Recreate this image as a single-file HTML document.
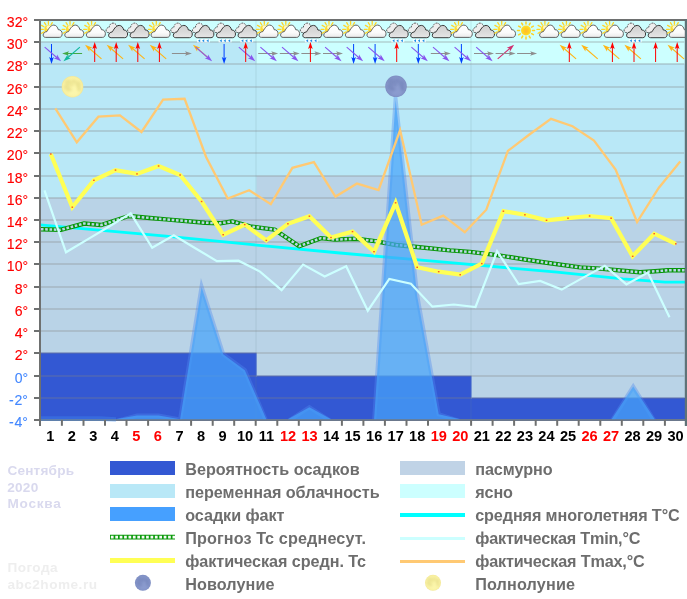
<!DOCTYPE html>
<html lang="ru">
<head>
<meta charset="utf-8">
<title>Погода Москва Сентябрь 2020</title>
<style>
html,body{margin:0;padding:0;background:#fff;}
body{width:687px;height:599px;overflow:hidden;font-family:"Liberation Sans",Arial,sans-serif;}
svg{display:block;}
</style>
</head>
<body>
<svg width="687" height="599" viewBox="0 0 687 599">
<defs>
<radialGradient id="gsun" cx="50%" cy="55%" r="55%"><stop offset="0" stop-color="#ffb82e"/><stop offset="0.55" stop-color="#ffd21f"/><stop offset="1" stop-color="#ffe135"/></radialGradient>
<linearGradient id="gcw" x1="0" y1="0" x2="0" y2="1"><stop offset="0" stop-color="#ffffff"/><stop offset="0.6" stop-color="#fbfbfb"/><stop offset="1" stop-color="#e9e9e9"/></linearGradient>
<linearGradient id="gcg" x1="0" y1="0" x2="0" y2="1"><stop offset="0" stop-color="#cfcfcf"/><stop offset="0.5" stop-color="#d9d9d9"/><stop offset="1" stop-color="#e6e6e6"/></linearGradient>
<radialGradient id="gfm" cx="50%" cy="50%" r="50%"><stop offset="0" stop-color="#fbf4a6"/><stop offset="0.88" stop-color="#f9f1a2"/><stop offset="1" stop-color="#f2e696"/></radialGradient>
<radialGradient id="gnm" cx="50%" cy="50%" r="50%"><stop offset="0" stop-color="#8898cb"/><stop offset="0.86" stop-color="#8494c8"/><stop offset="1" stop-color="#7e8ec2"/></radialGradient>
<g id="cloudw"><path d="M4.8,15.4 C3,15.4 2.2,14.2 2.3,12.9 C2.5,11.2 3.8,9.8 6,9.6 C7.2,7.8 9.4,3.1 12.9,3.1 C15.2,3.1 16.8,5.2 17.4,7.7 C19.8,7.5 21.3,9.6 21.3,11.7 C21.3,13.8 20.2,15.4 18.4,15.4 Z" fill="url(#gcw)" stroke="#505050" stroke-width="0.9"/></g>
<g id="suncl"><g stroke="#ffd426" stroke-width="1.3" stroke-linecap="round"><line x1="3.1" y1="9.9" x2="0.7" y2="11.3"/><line x1="2.4" y1="7.4" x2="-0.4" y2="7.4"/><line x1="3.1" y1="4.8" x2="0.7" y2="3.4"/><line x1="5" y1="3" x2="3.6" y2="0.6"/><line x1="7.5" y1="2.3" x2="7.5" y2="-0.5"/><line x1="10" y1="3" x2="11.4" y2="0.6"/></g><circle cx="7.5" cy="7.4" r="4.1" fill="#ffdc32"/><circle cx="7.6" cy="5.4" r="2" fill="#fff6c0"/><use href="#cloudw"/></g>
<g id="clouds"><path d="M2.6,10.6 C0.9,10.6 0.1,9.2 0.4,7.8 C0.7,6.3 1.9,5.5 3.3,5.7 C3.5,3.1 5.1,1.1 7.3,1.1 C9.3,1.1 10.7,2.5 11.1,4.3 C12.5,4.5 13.3,5.7 13.1,7.3 C12.9,9.1 11.7,10.6 10.1,10.6 Z" fill="#eeeeee" stroke="#505050" stroke-width="0.95" stroke-dasharray="1.7 1"/><path transform="translate(0.6,0.3)" d="M4.8,15.4 C3,15.4 2.2,14.2 2.3,12.9 C2.5,11.2 3.8,9.8 6,9.6 C7.2,7.8 9.4,3.1 12.9,3.1 C15.2,3.1 16.8,5.2 17.4,7.7 C19.8,7.5 21.3,9.6 21.3,11.7 C21.3,13.8 20.2,15.4 18.4,15.4 Z" fill="url(#gcg)" stroke="#3a3a3a" stroke-width="1"/></g>
<g id="rain"><rect x="5" y="17" width="13" height="3.4" fill="#ffffff" opacity="0.8"/><use href="#clouds"/><g fill="#1f8fe6"><path d="M6,18.8 L8.2,17.2 L8.2,20.2 Z"/><path d="M10,18.8 L12.2,17.2 L12.2,20.2 Z"/><path d="M14.4,18.8 L16.6,17.2 L16.6,20.2 Z"/></g></g>
<g id="sun"><g transform="translate(10.2,8.5)"><g stroke="#ffd21f" stroke-width="1.5" stroke-linecap="round"><line x1="0" y1="-6.5" x2="0" y2="-8.5"/><line x1="3.2" y1="-5.6" x2="4.2" y2="-7.4"/><line x1="5.6" y1="-3.3" x2="7.4" y2="-4.3"/><line x1="6.5" y1="-0" x2="8.5" y2="-0"/><line x1="5.6" y1="3.2" x2="7.4" y2="4.2"/><line x1="3.2" y1="5.6" x2="4.2" y2="7.4"/><line x1="0" y1="6.5" x2="0" y2="8.5"/><line x1="-3.3" y1="5.6" x2="-4.3" y2="7.4"/><line x1="-5.6" y1="3.3" x2="-7.4" y2="4.3"/><line x1="-6.5" y1="0" x2="-8.5" y2="0"/><line x1="-5.6" y1="-3.3" x2="-7.4" y2="-4.3"/><line x1="-3.3" y1="-5.6" x2="-4.3" y2="-7.4"/></g><circle r="5" fill="url(#gsun)"/></g></g>
<g id="arw"><line x1="0" y1="9" x2="0" y2="-7" stroke-width="1"/><path d="M0,-11 L2.3,-4 L0,-5.6 L-2.3,-4 Z" stroke="none"/></g>
<clipPath id="mclip"><circle r="10.7"/></clipPath><filter id="mblur" x="-30%" y="-30%" width="160%" height="160%"><feGaussianBlur stdDeviation="1.1"/></filter>
</defs>
<rect width="687" height="599" fill="#ffffff"/>
<rect x="40" y="20" width="646" height="400" fill="#ccffff"/>
<rect x="40" y="20" width="217.6" height="23" fill="#ccffff"/>
<rect x="40" y="41.7" width="217.6" height="157" fill="#b9e8f7"/>
<rect x="40" y="197.7" width="217.6" height="156" fill="#b9d3e7"/>
<rect x="40" y="352.7" width="217.6" height="67" fill="#3358d3"/>
<rect x="256.6" y="20" width="215.9" height="45" fill="#ccffff"/>
<rect x="256.6" y="63.7" width="215.9" height="113" fill="#b9e8f7"/>
<rect x="256.6" y="175.7" width="215.9" height="201" fill="#b9d3e7"/>
<rect x="256.6" y="375.7" width="215.9" height="44" fill="#3358d3"/>
<rect x="471.5" y="20" width="214.5" height="45" fill="#ccffff"/>
<rect x="471.5" y="63.7" width="214.5" height="157" fill="#b9e8f7"/>
<rect x="471.5" y="219.7" width="214.5" height="179" fill="#b9d3e7"/>
<rect x="471.5" y="397.7" width="214.5" height="22" fill="#3358d3"/>
<line x1="256" y1="21" x2="256" y2="419" stroke="#6f8c90" stroke-opacity="0.13" stroke-width="1.5"/>
<line x1="471" y1="21" x2="471" y2="419" stroke="#6f8c90" stroke-opacity="0.13" stroke-width="1.5"/>
<g stroke="#808080" stroke-opacity="0.27" stroke-width="2">
<line x1="41" y1="42" x2="684.2" y2="42"/>
<line x1="41" y1="64" x2="684.2" y2="64"/>
<line x1="41" y1="87" x2="684.2" y2="87"/>
<line x1="41" y1="109" x2="684.2" y2="109"/>
<line x1="41" y1="131" x2="684.2" y2="131"/>
<line x1="41" y1="153" x2="684.2" y2="153"/>
<line x1="41" y1="176" x2="684.2" y2="176"/>
<line x1="41" y1="198" x2="684.2" y2="198"/>
<line x1="41" y1="220" x2="684.2" y2="220"/>
<line x1="41" y1="242" x2="684.2" y2="242"/>
<line x1="41" y1="264" x2="684.2" y2="264"/>
<line x1="41" y1="287" x2="684.2" y2="287"/>
<line x1="41" y1="309" x2="684.2" y2="309"/>
<line x1="41" y1="331" x2="684.2" y2="331"/>
<line x1="41" y1="353" x2="684.2" y2="353"/>
<line x1="41" y1="376" x2="684.2" y2="376"/>
<line x1="41" y1="398" x2="684.2" y2="398"/>
</g>
<polyline points="40,224.8 166,236.2 250,244.4 340,253 450,262.7 557,272.1 623,278.9 665,282.1 685,282.1" fill="none" stroke="#00ffff" stroke-width="2.8" stroke-linejoin="round"/>
<polyline points="40,229.2 60.6,229.8 84.2,223.5 101.3,225 128.7,216 150,218 166,219.4 205,222.7 220,223.3 232,221.4 250,226.4 274.6,229.6 299.2,246.2 321,238.1 335,239.6 356,238.7 374.9,241.1 396,245 417,247 450,250.4 470,251.9 497,255.1 525,259.5 546.7,262.7 580,267.4 600,268.6 640,272.3 655,271.3 668,270.3 685,270.3" fill="none" stroke="#079607" stroke-width="4.4" stroke-linejoin="round"/>
<polyline points="40,229.2 60.6,229.8 84.2,223.5 101.3,225 128.7,216 150,218 166,219.4 205,222.7 220,223.3 232,221.4 250,226.4 274.6,229.6 299.2,246.2 321,238.1 335,239.6 356,238.7 374.9,241.1 396,245 417,247 450,250.4 470,251.9 497,255.1 525,259.5 546.7,262.7 580,267.4 600,268.6 640,272.3 655,271.3 668,270.3 685,270.3" fill="none" stroke="#b9d5e6" stroke-width="2.5" stroke-dasharray="2.6 1.7" stroke-dashoffset="-0.9" stroke-linejoin="round"/>
<line x1="41" y1="420" x2="685" y2="420" stroke="#6b788c" stroke-width="2"/>
<polyline points="41,418.6 100,418.6 116,419.6" fill="none" stroke="#4696fa" stroke-opacity="0.3" stroke-width="4.8"/>
<clipPath id="pclip"><rect x="41" y="21" width="644" height="398.2"/></clipPath>
<polyline points="115.5,421.2 137,415.6 158.6,415.6 180.1,419.6 201.6,287 223.2,354.3 244.8,370.2 266.3,421.2 287.9,421.2 309.4,407.3 331,421.2 374.1,421.2 395.6,100 417.2,296 438.7,414.3 460.2,421.2 611.6,421.2 633.2,386.6 654.7,421.2" fill="none" stroke="#5088ee" stroke-opacity="0.38" stroke-width="4.2" stroke-linejoin="miter" stroke-miterlimit="40" clip-path="url(#pclip)"/>
<polygon points="115.5,419.2 115.5,419.2 137,415.6 158.6,415.6 180.1,419.2 201.6,287 223.2,354.3 244.8,370.2 266.3,419.2 287.9,419.2 309.4,407.3 331,419.2 374.1,419.2 395.6,100 417.2,296 438.7,414.3 460.2,419.2 611.6,419.2 633.2,386.6 654.7,419.2 654.7,419.2" fill="#46a4fa" fill-opacity="0.72"/>
<polyline points="44.5,190.3 66,252.3 87.6,239.4 109.2,226.5 130.7,213.3 152.2,247.8 173.8,235.2 195.3,248.2 216.9,261.1 238.5,260.7 260,271.6 281.6,290.1 303.1,264.6 324.7,276.5 346.2,266.3 367.8,310.7 389.3,278.9 410.9,283.7 432.4,306.7 453.9,304.5 475.5,307 497.1,251.2 518.6,284 540.2,280.9 561.7,289.6 583.2,277.6 604.8,265.9 626.4,284.4 647.9,272.5 669.5,317.3" fill="none" stroke="#ccffff" stroke-width="2.2" stroke-linejoin="miter"/>
<polyline points="55.3,108.4 76.8,142.3 98.4,116.7 120,115.4 141.5,132 163.1,99.7 184.6,98.8 206.1,157 227.7,198.5 249.2,190.2 270.8,204.2 292.4,167.8 313.9,162.2 335.5,196.6 357,183.6 378.6,190 400.1,130.1 421.7,224.7 443.2,215.6 464.8,232.2 486.3,209.7 507.9,150.9 529.4,134.5 551,118.8 572.5,126.2 594,140.5 615.6,169.5 637.1,222 658.7,188 680.2,161.5" fill="none" stroke="#ffc973" stroke-width="2.3" stroke-linejoin="miter"/>
<polyline points="50.8,154 72.3,207.2 93.9,180.3 115.5,170.1 137,173.9 158.6,166 180.1,175 201.6,201.5 223.2,234.7 244.8,224.6 266.3,240.4 287.9,223.8 309.4,216.2 331,237.5 352.5,231.6 374.1,251.7 395.6,202.8 417.2,267.3 438.7,271.7 460.2,274.7 481.8,263.6 503.4,211.2 524.9,214.8 546.5,220.3 568,218.2 589.5,216 611.1,218.2 632.6,256.3 654.2,233.7 675.8,243.8" fill="none" stroke="#ffff55" stroke-width="4.2" stroke-linejoin="miter" stroke-linecap="butt"/>
<g fill="#ff5a1e">
<rect x="50" y="153.3" width="1.6" height="1.4"/>
<rect x="71.5" y="206.5" width="1.6" height="1.4"/>
<rect x="93.1" y="179.6" width="1.6" height="1.4"/>
<rect x="114.7" y="169.4" width="1.6" height="1.4"/>
<rect x="136.2" y="173.2" width="1.6" height="1.4"/>
<rect x="157.8" y="165.3" width="1.6" height="1.4"/>
<rect x="179.3" y="174.3" width="1.6" height="1.4"/>
<rect x="200.8" y="200.8" width="1.6" height="1.4"/>
<rect x="222.4" y="234" width="1.6" height="1.4"/>
<rect x="243.9" y="223.9" width="1.6" height="1.4"/>
<rect x="265.5" y="239.7" width="1.6" height="1.4"/>
<rect x="287.1" y="223.1" width="1.6" height="1.4"/>
<rect x="308.6" y="215.5" width="1.6" height="1.4"/>
<rect x="330.2" y="236.8" width="1.6" height="1.4"/>
<rect x="351.7" y="230.9" width="1.6" height="1.4"/>
<rect x="373.2" y="251" width="1.6" height="1.4"/>
<rect x="394.8" y="202.1" width="1.6" height="1.4"/>
<rect x="416.4" y="266.6" width="1.6" height="1.4"/>
<rect x="437.9" y="271" width="1.6" height="1.4"/>
<rect x="459.4" y="274" width="1.6" height="1.4"/>
<rect x="481" y="262.9" width="1.6" height="1.4"/>
<rect x="502.6" y="210.5" width="1.6" height="1.4"/>
<rect x="524.1" y="214.1" width="1.6" height="1.4"/>
<rect x="545.7" y="219.6" width="1.6" height="1.4"/>
<rect x="567.2" y="217.5" width="1.6" height="1.4"/>
<rect x="588.8" y="215.3" width="1.6" height="1.4"/>
<rect x="610.3" y="217.5" width="1.6" height="1.4"/>
<rect x="631.9" y="255.6" width="1.6" height="1.4"/>
<rect x="653.4" y="233" width="1.6" height="1.4"/>
<rect x="675" y="243.1" width="1.6" height="1.4"/>
</g>
<g transform="translate(72.5,86.7) scale(1.009)"><circle r="10.7" fill="url(#gfm)"/><g clip-path="url(#mclip)"><g filter="url(#mblur)"><g fill="#dcd27c" fill-opacity="0.42"><ellipse cx="-4.2" cy="-4.6" rx="3.4" ry="2.6"/><ellipse cx="-5.6" cy="0.4" rx="3" ry="2.8"/><ellipse cx="-2.6" cy="3.4" rx="2.6" ry="1.8"/><ellipse cx="1.4" cy="-5.2" rx="2.4" ry="2"/><ellipse cx="5.6" cy="-2.4" rx="2.6" ry="3"/><ellipse cx="6.4" cy="2.2" rx="1.8" ry="2.4"/><ellipse cx="-0.6" cy="-1.6" rx="1.8" ry="1.4"/></g><g fill="#fffdb8" fill-opacity="0.4"><ellipse cx="1" cy="6" rx="5" ry="3.2"/><ellipse cx="2" cy="1.4" rx="1.4" ry="2"/></g></g></g></g>
<g transform="translate(396,86.3) scale(1.009)"><circle r="10.7" fill="url(#gnm)"/><g clip-path="url(#mclip)"><g filter="url(#mblur)"><g fill="#6c7cb2" fill-opacity="0.42"><ellipse cx="-4.2" cy="-4.6" rx="3.4" ry="2.6"/><ellipse cx="-5.6" cy="0.4" rx="3" ry="2.8"/><ellipse cx="-2.6" cy="3.4" rx="2.6" ry="1.8"/><ellipse cx="1.4" cy="-5.2" rx="2.4" ry="2"/><ellipse cx="5.6" cy="-2.4" rx="2.6" ry="3"/><ellipse cx="6.4" cy="2.2" rx="1.8" ry="2.4"/><ellipse cx="-0.6" cy="-1.6" rx="1.8" ry="1.4"/></g><g fill="#93a4d6" fill-opacity="0.4"><ellipse cx="1" cy="6" rx="5" ry="3.2"/><ellipse cx="2" cy="1.4" rx="1.4" ry="2"/></g></g></g></g>
<svg x="40" y="20" width="645" height="400" viewBox="40 20 645 400" overflow="hidden">
<use href="#suncl" x="40.9" y="22"/>
<use href="#suncl" x="62.5" y="22"/>
<use href="#suncl" x="84.1" y="22"/>
<use href="#clouds" x="105.7" y="22"/>
<use href="#clouds" x="127.2" y="22"/>
<use href="#suncl" x="148.8" y="22"/>
<use href="#clouds" x="170.4" y="22"/>
<use href="#rain" x="192" y="22"/>
<use href="#rain" x="213.6" y="22"/>
<use href="#rain" x="235.2" y="22"/>
<use href="#suncl" x="256.8" y="22"/>
<use href="#suncl" x="278.3" y="22"/>
<use href="#rain" x="299.9" y="22"/>
<use href="#suncl" x="321.5" y="22"/>
<use href="#suncl" x="343.1" y="22"/>
<use href="#suncl" x="364.7" y="22"/>
<use href="#rain" x="386.3" y="22"/>
<use href="#rain" x="407.8" y="22"/>
<use href="#clouds" x="429.4" y="22"/>
<use href="#suncl" x="451" y="22"/>
<use href="#clouds" x="472.6" y="22"/>
<use href="#suncl" x="494.2" y="22"/>
<use href="#sun" x="515.8" y="22"/>
<use href="#suncl" x="537.4" y="22"/>
<use href="#suncl" x="558.9" y="22"/>
<use href="#suncl" x="580.5" y="22"/>
<use href="#suncl" x="602.1" y="22"/>
<use href="#rain" x="623.7" y="22"/>
<use href="#clouds" x="645.3" y="22"/>
<use href="#suncl" x="666.9" y="22"/>
<use href="#arw" transform="translate(51.5,53) rotate(180) scale(1.00)" fill="#0040ff" stroke="#0040ff"/>
<use href="#arw" transform="translate(52.1,53.5) rotate(131) scale(1.09)" fill="#8855ee" stroke="#8855ee"/>
<use href="#arw" transform="translate(73.1,53.5) rotate(-90) scale(1.00)" fill="#44a844" stroke="#44a844"/>
<use href="#arw" transform="translate(72.5,53.5) rotate(-131) scale(1.09)" fill="#10b89c" stroke="#10b89c"/>
<use href="#arw" transform="translate(94.1,52.5) rotate(-49) scale(1.09)" fill="#ffb414" stroke="#ffb414"/>
<use href="#arw" transform="translate(94.7,53) rotate(0) scale(1.00)" fill="#ff0000" stroke="#ff0000"/>
<use href="#arw" transform="translate(115.7,52.5) rotate(-49) scale(1.09)" fill="#ffb414" stroke="#ffb414"/>
<use href="#arw" transform="translate(116.2,53) rotate(0) scale(1.00)" fill="#ff0000" stroke="#ff0000"/>
<use href="#arw" transform="translate(137.2,52.5) rotate(-49) scale(1.09)" fill="#ffb414" stroke="#ffb414"/>
<use href="#arw" transform="translate(137.8,53) rotate(0) scale(1.00)" fill="#ff0000" stroke="#ff0000"/>
<use href="#arw" transform="translate(158.8,52.5) rotate(-49) scale(1.09)" fill="#ffb414" stroke="#ffb414"/>
<use href="#arw" transform="translate(159.4,53) rotate(0) scale(1.00)" fill="#ff0000" stroke="#ff0000"/>
<use href="#arw" transform="translate(180.9,53.5) rotate(90) scale(1.00)" fill="#8e8e8e" stroke="#8e8e8e"/>
<use href="#arw" transform="translate(202,52.5) rotate(-49) scale(1.09)" fill="#ffb414" stroke="#ffb414"/>
<use href="#arw" transform="translate(203.1,53.5) rotate(131) scale(1.09)" fill="#8855ee" stroke="#8855ee"/>
<use href="#arw" transform="translate(224.1,53) rotate(180) scale(1.00)" fill="#0040ff" stroke="#0040ff"/>
<use href="#arw" transform="translate(246.2,53.5) rotate(131) scale(1.09)" fill="#8855ee" stroke="#8855ee"/>
<use href="#arw" transform="translate(245.7,53) rotate(0) scale(1.00)" fill="#ff0000" stroke="#ff0000"/>
<use href="#arw" transform="translate(267.2,53.5) rotate(90) scale(1.00)" fill="#8e8e8e" stroke="#8e8e8e"/>
<use href="#arw" transform="translate(267.8,53.5) rotate(131) scale(1.09)" fill="#8855ee" stroke="#8855ee"/>
<use href="#arw" transform="translate(288.8,53.5) rotate(90) scale(1.00)" fill="#8e8e8e" stroke="#8e8e8e"/>
<use href="#arw" transform="translate(289.4,53.5) rotate(131) scale(1.09)" fill="#8855ee" stroke="#8855ee"/>
<use href="#arw" transform="translate(310.4,53.5) rotate(90) scale(1.00)" fill="#8e8e8e" stroke="#8e8e8e"/>
<use href="#arw" transform="translate(310.4,53) rotate(0) scale(1.00)" fill="#ff0000" stroke="#ff0000"/>
<use href="#arw" transform="translate(332,53.5) rotate(90) scale(1.00)" fill="#8e8e8e" stroke="#8e8e8e"/>
<use href="#arw" transform="translate(332.5,53.5) rotate(131) scale(1.09)" fill="#8855ee" stroke="#8855ee"/>
<use href="#arw" transform="translate(353.6,53) rotate(180) scale(1.00)" fill="#0040ff" stroke="#0040ff"/>
<use href="#arw" transform="translate(354.1,53.5) rotate(131) scale(1.09)" fill="#8855ee" stroke="#8855ee"/>
<use href="#arw" transform="translate(375.1,53) rotate(180) scale(1.00)" fill="#0040ff" stroke="#0040ff"/>
<use href="#arw" transform="translate(375.7,53.5) rotate(131) scale(1.09)" fill="#8855ee" stroke="#8855ee"/>
<use href="#arw" transform="translate(396.7,53) rotate(0) scale(1.00)" fill="#ff0000" stroke="#ff0000"/>
<use href="#arw" transform="translate(418.3,53) rotate(180) scale(1.00)" fill="#0040ff" stroke="#0040ff"/>
<use href="#arw" transform="translate(418.8,53.5) rotate(131) scale(1.09)" fill="#8855ee" stroke="#8855ee"/>
<use href="#arw" transform="translate(439.8,53.5) rotate(90) scale(1.00)" fill="#8e8e8e" stroke="#8e8e8e"/>
<use href="#arw" transform="translate(440.4,53.5) rotate(131) scale(1.09)" fill="#8855ee" stroke="#8855ee"/>
<use href="#arw" transform="translate(461.4,53) rotate(180) scale(1.00)" fill="#0040ff" stroke="#0040ff"/>
<use href="#arw" transform="translate(462,53.5) rotate(131) scale(1.09)" fill="#8855ee" stroke="#8855ee"/>
<use href="#arw" transform="translate(483,53.5) rotate(90) scale(1.00)" fill="#8e8e8e" stroke="#8e8e8e"/>
<use href="#arw" transform="translate(483.6,53.5) rotate(131) scale(1.09)" fill="#8855ee" stroke="#8855ee"/>
<use href="#arw" transform="translate(505.1,52.5) rotate(49) scale(1.09)" fill="#d03070" stroke="#d03070"/>
<use href="#arw" transform="translate(504.6,53.5) rotate(90) scale(1.00)" fill="#8e8e8e" stroke="#8e8e8e"/>
<use href="#arw" transform="translate(526.1,53.5) rotate(90) scale(1.00)" fill="#8e8e8e" stroke="#8e8e8e"/>
<use href="#arw" transform="translate(568.7,52.5) rotate(-49) scale(1.09)" fill="#ffb414" stroke="#ffb414"/>
<use href="#arw" transform="translate(569.3,53) rotate(0) scale(1.00)" fill="#ff0000" stroke="#ff0000"/>
<use href="#arw" transform="translate(590.3,52.5) rotate(-49) scale(1.09)" fill="#ffb414" stroke="#ffb414"/>
<use href="#arw" transform="translate(611.9,52.5) rotate(-49) scale(1.09)" fill="#ffb414" stroke="#ffb414"/>
<use href="#arw" transform="translate(612.4,53) rotate(0) scale(1.00)" fill="#ff0000" stroke="#ff0000"/>
<use href="#arw" transform="translate(633.5,52.5) rotate(-49) scale(1.09)" fill="#ffb414" stroke="#ffb414"/>
<use href="#arw" transform="translate(634,53) rotate(0) scale(1.00)" fill="#ff0000" stroke="#ff0000"/>
<use href="#arw" transform="translate(655.6,53) rotate(0) scale(1.00)" fill="#ff0000" stroke="#ff0000"/>
<use href="#arw" transform="translate(676.6,52.5) rotate(-49) scale(1.09)" fill="#ffb414" stroke="#ffb414"/>
<use href="#arw" transform="translate(677.2,53) rotate(0) scale(1.00)" fill="#ff0000" stroke="#ff0000"/>
</svg>
<g stroke="#6e7070" stroke-width="2" shape-rendering="crispEdges">
<line x1="40" y1="19" x2="40" y2="426"/>
<line x1="34" y1="20" x2="687" y2="20"/>
<line x1="34" y1="420" x2="41" y2="420"/>
</g>
<line x1="686" y1="19" x2="686" y2="426" stroke="#5f7378" stroke-width="2.4"/>
<g stroke="#6e7070" stroke-width="2">
<line x1="34" y1="42" x2="40" y2="42"/>
<line x1="34" y1="64" x2="40" y2="64"/>
<line x1="34" y1="87" x2="40" y2="87"/>
<line x1="34" y1="109" x2="40" y2="109"/>
<line x1="34" y1="131" x2="40" y2="131"/>
<line x1="34" y1="153" x2="40" y2="153"/>
<line x1="34" y1="176" x2="40" y2="176"/>
<line x1="34" y1="198" x2="40" y2="198"/>
<line x1="34" y1="220" x2="40" y2="220"/>
<line x1="34" y1="242" x2="40" y2="242"/>
<line x1="34" y1="264" x2="40" y2="264"/>
<line x1="34" y1="287" x2="40" y2="287"/>
<line x1="34" y1="309" x2="40" y2="309"/>
<line x1="34" y1="331" x2="40" y2="331"/>
<line x1="34" y1="353" x2="40" y2="353"/>
<line x1="34" y1="376" x2="40" y2="376"/>
<line x1="34" y1="398" x2="40" y2="398"/>
<line x1="61.9" y1="420" x2="61.9" y2="425.8"/>
<line x1="83.5" y1="420" x2="83.5" y2="425.8"/>
<line x1="105" y1="420" x2="105" y2="425.8"/>
<line x1="126.5" y1="420" x2="126.5" y2="425.8"/>
<line x1="148.1" y1="420" x2="148.1" y2="425.8"/>
<line x1="169.6" y1="420" x2="169.6" y2="425.8"/>
<line x1="191.1" y1="420" x2="191.1" y2="425.8"/>
<line x1="212.7" y1="420" x2="212.7" y2="425.8"/>
<line x1="234.2" y1="420" x2="234.2" y2="425.8"/>
<line x1="255.7" y1="420" x2="255.7" y2="425.8"/>
<line x1="277.3" y1="420" x2="277.3" y2="425.8"/>
<line x1="298.8" y1="420" x2="298.8" y2="425.8"/>
<line x1="320.3" y1="420" x2="320.3" y2="425.8"/>
<line x1="341.9" y1="420" x2="341.9" y2="425.8"/>
<line x1="363.4" y1="420" x2="363.4" y2="425.8"/>
<line x1="384.9" y1="420" x2="384.9" y2="425.8"/>
<line x1="406.5" y1="420" x2="406.5" y2="425.8"/>
<line x1="428" y1="420" x2="428" y2="425.8"/>
<line x1="449.5" y1="420" x2="449.5" y2="425.8"/>
<line x1="471.1" y1="420" x2="471.1" y2="425.8"/>
<line x1="492.6" y1="420" x2="492.6" y2="425.8"/>
<line x1="514.1" y1="420" x2="514.1" y2="425.8"/>
<line x1="535.7" y1="420" x2="535.7" y2="425.8"/>
<line x1="557.2" y1="420" x2="557.2" y2="425.8"/>
<line x1="578.7" y1="420" x2="578.7" y2="425.8"/>
<line x1="600.3" y1="420" x2="600.3" y2="425.8"/>
<line x1="621.8" y1="420" x2="621.8" y2="425.8"/>
<line x1="643.3" y1="420" x2="643.3" y2="425.8"/>
<line x1="664.9" y1="420" x2="664.9" y2="425.8"/>
</g>
<g font-family="'Liberation Sans', Arial, sans-serif" font-size="14.1" text-anchor="end">
<text x="28.2" y="26.9" fill="#ff0000" stroke="#ff0000" stroke-width="0.12">32°</text>
<text x="28.2" y="48.9" fill="#ff0000" stroke="#ff0000" stroke-width="0.12">30°</text>
<text x="28.2" y="70.9" fill="#ff0000" stroke="#ff0000" stroke-width="0.12">28°</text>
<text x="28.2" y="93.9" fill="#ff0000" stroke="#ff0000" stroke-width="0.12">26°</text>
<text x="28.2" y="115.9" fill="#ff0000" stroke="#ff0000" stroke-width="0.12">24°</text>
<text x="28.2" y="137.9" fill="#ff0000" stroke="#ff0000" stroke-width="0.12">22°</text>
<text x="28.2" y="159.9" fill="#ff0000" stroke="#ff0000" stroke-width="0.12">20°</text>
<text x="28.2" y="182.9" fill="#ff0000" stroke="#ff0000" stroke-width="0.12">18°</text>
<text x="28.2" y="204.9" fill="#ff0000" stroke="#ff0000" stroke-width="0.12">16°</text>
<text x="28.2" y="226.9" fill="#ff0000" stroke="#ff0000" stroke-width="0.12">14°</text>
<text x="28.2" y="248.9" fill="#ff0000" stroke="#ff0000" stroke-width="0.12">12°</text>
<text x="28.2" y="270.9" fill="#ff0000" stroke="#ff0000" stroke-width="0.12">10°</text>
<text x="28.2" y="293.9" fill="#ff0000" stroke="#ff0000" stroke-width="0.12">8°</text>
<text x="28.2" y="315.9" fill="#ff0000" stroke="#ff0000" stroke-width="0.12">6°</text>
<text x="28.2" y="337.9" fill="#ff0000" stroke="#ff0000" stroke-width="0.12">4°</text>
<text x="28.2" y="359.9" fill="#ff0000" stroke="#ff0000" stroke-width="0.12">2°</text>
<text x="28.2" y="382.9" fill="#4488ff" stroke="#4488ff" stroke-width="0.12">0°</text>
<text x="27.9" y="404.9" fill="#4488ff" stroke="#4488ff" stroke-width="0.12"><tspan>-</tspan><tspan dx="0.7">2°</tspan></text>
<text x="27.9" y="426.9" fill="#4488ff" stroke="#4488ff" stroke-width="0.12"><tspan>-</tspan><tspan dx="0.7">4°</tspan></text>
</g>
<g font-family="'Liberation Sans', Arial, sans-serif" font-size="14.6" font-weight="bold" text-anchor="middle">
<text x="50.3" y="440.6" fill="#000000">1</text>
<text x="71.8" y="440.6" fill="#000000">2</text>
<text x="93.3" y="440.6" fill="#000000">3</text>
<text x="114.9" y="440.6" fill="#000000">4</text>
<text x="136.4" y="440.6" fill="#ff0000">5</text>
<text x="157.9" y="440.6" fill="#ff0000">6</text>
<text x="179.5" y="440.6" fill="#000000">7</text>
<text x="201" y="440.6" fill="#000000">8</text>
<text x="222.5" y="440.6" fill="#000000">9</text>
<text x="245" y="440.6" fill="#000000">10</text>
<text x="266.5" y="440.6" fill="#000000">11</text>
<text x="288" y="440.6" fill="#ff0000">12</text>
<text x="309.6" y="440.6" fill="#ff0000">13</text>
<text x="331.1" y="440.6" fill="#000000">14</text>
<text x="352.6" y="440.6" fill="#000000">15</text>
<text x="374.2" y="440.6" fill="#000000">16</text>
<text x="395.7" y="440.6" fill="#000000">17</text>
<text x="417.2" y="440.6" fill="#000000">18</text>
<text x="438.8" y="440.6" fill="#ff0000">19</text>
<text x="460.3" y="440.6" fill="#ff0000">20</text>
<text x="481.8" y="440.6" fill="#000000">21</text>
<text x="503.4" y="440.6" fill="#000000">22</text>
<text x="524.9" y="440.6" fill="#000000">23</text>
<text x="546.4" y="440.6" fill="#000000">24</text>
<text x="568" y="440.6" fill="#000000">25</text>
<text x="589.5" y="440.6" fill="#ff0000">26</text>
<text x="611" y="440.6" fill="#ff0000">27</text>
<text x="632.6" y="440.6" fill="#000000">28</text>
<text x="654.1" y="440.6" fill="#000000">29</text>
<text x="675.6" y="440.6" fill="#000000">30</text>
</g>
<g font-family="'Liberation Sans', Arial, sans-serif" font-weight="bold" font-size="13.6" fill="#d9d9ee">
<text x="7.4" y="475" textLength="66.6" lengthAdjust="spacing">Сентябрь</text><text x="7.2" y="491.7" textLength="31" lengthAdjust="spacing">2020</text><text x="7.4" y="507.8" textLength="53.4" lengthAdjust="spacing">Москва</text>
</g>
<g font-family="'Liberation Sans', Arial, sans-serif" font-weight="bold" font-size="13.6" fill="#eeeeee">
<text x="7.4" y="572" textLength="50.2" lengthAdjust="spacing">Погода</text><text x="7.4" y="589.4" textLength="89.6" lengthAdjust="spacing">abc2home.ru</text>
</g>
<g shape-rendering="crispEdges">
<rect x="110" y="461" width="65" height="14" fill="#3358d3"/>
<rect x="110" y="484" width="65" height="14" fill="#b9e8f7"/>
<rect x="110" y="507" width="65" height="14" fill="#46a0ff"/>
<rect x="110" y="558" width="65" height="5" fill="#ffff55"/>
<rect x="400" y="461" width="65" height="14" fill="#c0d3e6"/>
<rect x="400" y="484" width="65" height="14" fill="#ccffff"/>
<rect x="400" y="513" width="65" height="4" fill="#00ffff"/>
<rect x="400" y="537" width="65" height="3" fill="#ccffff"/>
<rect x="400" y="560" width="65" height="3" fill="#ffc973"/>
</g>
<line x1="110" y1="537.2" x2="175" y2="537.2" stroke="#0a9a0a" stroke-width="4.8"/>
<line x1="110" y1="537.2" x2="175" y2="537.2" stroke="#f8fcf8" stroke-width="2.7" stroke-dasharray="2.7 1.7" stroke-dashoffset="-0.9"/>
<g transform="translate(142.9,582.8) scale(0.748)"><circle r="10.7" fill="url(#gnm)"/><g clip-path="url(#mclip)"><g filter="url(#mblur)"><g fill="#6c7cb2" fill-opacity="0.42"><ellipse cx="-4.2" cy="-4.6" rx="3.4" ry="2.6"/><ellipse cx="-5.6" cy="0.4" rx="3" ry="2.8"/><ellipse cx="-2.6" cy="3.4" rx="2.6" ry="1.8"/><ellipse cx="1.4" cy="-5.2" rx="2.4" ry="2"/><ellipse cx="5.6" cy="-2.4" rx="2.6" ry="3"/><ellipse cx="6.4" cy="2.2" rx="1.8" ry="2.4"/><ellipse cx="-0.6" cy="-1.6" rx="1.8" ry="1.4"/></g><g fill="#93a4d6" fill-opacity="0.4"><ellipse cx="1" cy="6" rx="5" ry="3.2"/><ellipse cx="2" cy="1.4" rx="1.4" ry="2"/></g></g></g></g>
<g transform="translate(433,582.8) scale(0.748)"><circle r="10.7" fill="url(#gfm)"/><g clip-path="url(#mclip)"><g filter="url(#mblur)"><g fill="#dcd27c" fill-opacity="0.42"><ellipse cx="-4.2" cy="-4.6" rx="3.4" ry="2.6"/><ellipse cx="-5.6" cy="0.4" rx="3" ry="2.8"/><ellipse cx="-2.6" cy="3.4" rx="2.6" ry="1.8"/><ellipse cx="1.4" cy="-5.2" rx="2.4" ry="2"/><ellipse cx="5.6" cy="-2.4" rx="2.6" ry="3"/><ellipse cx="6.4" cy="2.2" rx="1.8" ry="2.4"/><ellipse cx="-0.6" cy="-1.6" rx="1.8" ry="1.4"/></g><g fill="#fffdb8" fill-opacity="0.4"><ellipse cx="1" cy="6" rx="5" ry="3.2"/><ellipse cx="2" cy="1.4" rx="1.4" ry="2"/></g></g></g></g>
<g font-family="'Liberation Sans', Arial, sans-serif" font-weight="bold" font-size="16.2" fill="#6d6d6d">
<text x="185.2" y="475.2" textLength="174.4" lengthAdjust="spacing">Вероятность осадков</text>
<text x="475.2" y="475.2" textLength="77.5" lengthAdjust="spacing">пасмурно</text>
<text x="185.2" y="498.2" textLength="194.4" lengthAdjust="spacing">переменная облачность</text>
<text x="475.2" y="498.2" textLength="37.7" lengthAdjust="spacing">ясно</text>
<text x="185.2" y="521.2" textLength="99.3" lengthAdjust="spacing">осадки факт</text>
<text x="475.2" y="521.2" textLength="204.5" lengthAdjust="spacing">средняя многолетняя T°C</text>
<text x="185.2" y="544.2" textLength="180.7" lengthAdjust="spacing">Прогноз Tc среднесут.</text>
<text x="475.2" y="544.2" textLength="165.2" lengthAdjust="spacing">фактическая Tmin,°C</text>
<text x="185.2" y="567.2" textLength="180.7" lengthAdjust="spacing">фактическая средн. Tc</text>
<text x="475.2" y="567.2" textLength="169.5" lengthAdjust="spacing">фактическая Tmax,°C</text>
<text x="185.2" y="590.2" textLength="89.3" lengthAdjust="spacing">Новолуние</text>
<text x="475.2" y="590.2" textLength="99.8" lengthAdjust="spacing">Полнолуние</text>
</g>
</svg>
</body>
</html>
